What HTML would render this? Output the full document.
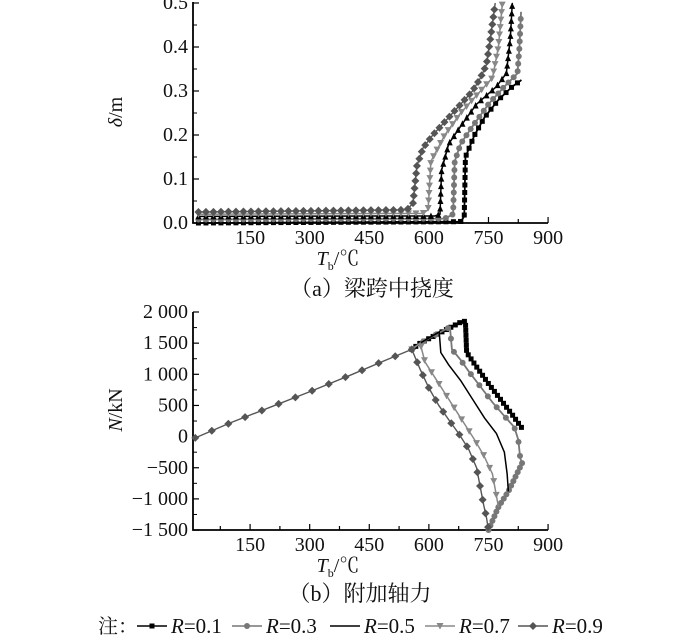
<!DOCTYPE html>
<html><head><meta charset="utf-8"><style>
body{margin:0;background:#fff}
svg text{font-family:"Liberation Serif","Noto Serif CJK SC",serif;fill:#111}
</style></head><body>
<svg id="c" width="700" height="635" viewBox="0 0 700 635" xmlns="http://www.w3.org/2000/svg"></svg>
<script>
const tempTicks=[150,300,450,600,750,900];
const deflTicks=[0.0,0.1,0.2,0.3,0.4,0.5];
const deflTickLabels=["0.0","0.1","0.2","0.3","0.4","0.5"];
const forceTicks=[2000,1500,1000,500,0,-500,-1000,-1500];
const forceTickLabels=["2 000","1 500","1 000","500","0","\u2212500","\u22121 000","\u22121 500"];
const seriesNames=["R=0.1","R=0.3","R=0.5","R=0.7","R=0.9"];
// deflection (T, δ)
const d01=[[20,0.0],[680,0.003],[689,0.015],[692,0.15],[715,0.2],[740,0.24],[775,0.28],[810,0.31],[833,0.325]];
const d03=[[20,0.008],[640,0.01],[661,0.02],[665,0.14],[680,0.18],[710,0.22],[750,0.27],[790,0.31],[823,0.34],[828,0.4],[832,0.48]];
const d05=[[20,0.015],[615,0.016],[628,0.02],[632,0.12],[650,0.18],[680,0.22],[720,0.27],[770,0.31],[795,0.34],[805,0.42],[810,0.5]];
const d07=[[20,0.02],[585,0.022],[598,0.03],[605,0.14],[640,0.2],[680,0.25],[730,0.3],[760,0.33],[775,0.4],[785,0.5]];
const d09=[[20,0.025],[545,0.03],[560,0.045],[570,0.13],[585,0.17],[610,0.2],[640,0.23],[670,0.26],[710,0.3],[730,0.33],[745,0.36],[755,0.42],[767,0.5]];
// axial force (T, N)
const rise=[[12,-20],[100,220],[200,470],[300,720],[400,980],[500,1250],[557,1400]];
const n09=[[578,1080],[600,780],[625,500],[650,270],[675,50],[700,-200],[720,-500],[738,-1100],[745,-1300],[750,-1500]];
const n07=[[578,1500],[590,1200],[615,950],[640,700],[665,450],[690,200],[715,-50],[738,-300],[760,-600],[770,-950],[775,-1130]];
const n05=[[578,1500],[626,1680],[630,1350],[650,1150],[680,900],[710,600],[740,300],[770,50],[790,-250],[797,-600],[800,-880]];
const n03=[[578,1500],[653,1760],[658,1400],[680,1230],[700,1050],[730,800],[760,550],[790,330],[815,150],[825,-50],[830,-350],[835,-420]];
const n01=[[578,1500],[684,1850],[692,1850],[695,1350],[720,1120],[750,850],[780,600],[810,350],[835,130]];
const back=[[750,-1500],[775,-1130],[800,-880],[835,-420]];

const S=document.getElementById('c');const NS="http://www.w3.org/2000/svg";
function el(t,a,p){const e=document.createElementNS(NS,t);for(const k in a)e.setAttribute(k,a[k]);(p||S).appendChild(e);return e;}
function tx(x,y,s,size,anchor,name){const e=el('text',{x:x,y:y,'font-size':size,'text-anchor':anchor||'middle'});e.textContent=s;

return e;}
const xs=t=>190.5+t*0.3973;
const ys1=v=>223-v*440;
const ys2=v=>436.6-v*0.0623;
const styles=[{c:"#000",m:"sq",w:1.8},{c:"#777",m:"ci",w:1.8},{c:"#000",m:"none",w:1.5},{c:"#888",m:"tv",w:1.5},{c:"#555",m:"di",w:1.4}];
function marker(g,x,y,m,c){
 if(m=="sq")el('rect',{x:x-2.5,y:y-2.5,width:5,height:5,fill:c},g);
 else if(m=="ci")el('circle',{cx:x,cy:y,r:3,fill:c},g);
 else if(m=="tv")el('path',{d:`M${x-3.5} ${y-3}L${x+3.5} ${y-3}L${x} ${y+3.5}Z`,fill:c},g);
 else if(m=="tu")el('path',{d:`M${x-3} ${y+3}L${x+3} ${y+3}L${x} ${y-3.5}Z`,fill:c},g);
 else if(m=="di")el('path',{d:`M${x} ${y-4}L${x+4} ${y}L${x} ${y+4}L${x-4} ${y}Z`,fill:c},g);
}
function series(pts,ys,st,name,step,mk){
 const g=el('g',{});
 
 
 const P=pts.map(p=>[xs(p[0]),ys(p[1])]);
 el('polyline',{points:P.map(p=>p.join(',')).join(' '),fill:'none',stroke:st.c,'stroke-width':st.w},g);
 const m=mk||st.m; if(m=="none")return;
 let acc=0;marker(g,P[0][0],P[0][1],m,st.c);
 for(let i=1;i<P.length;i++){const dx=P[i][0]-P[i-1][0],dy=P[i][1]-P[i-1][1],L=Math.hypot(dx,dy);let s=step-acc;
  while(s<=L){marker(g,P[i-1][0]+dx*s/L,P[i-1][1]+dy*s/L,m,st.c);s+=step;}acc=L-(s-step);}
}
function axes(top,bot,yt,yl,ys,name){
 const g=el('g',{});
 
 
 el('path',{d:`M193 ${top}L193 ${bot}L548 ${bot}`,fill:'none',stroke:'#000','stroke-width':1.8},g);
 for(let t=75;t<=900;t+=75){el('line',{x1:xs(t),x2:xs(t),y1:bot,y2:bot-(t%150?4:6),stroke:'#000','stroke-width':1.2},g);}
 tempTicks.forEach(t=>tx(xs(t),bot+21,String(t),20,'middle','x-tick-label'));
 yt.forEach((v,i)=>{el('line',{x1:193,x2:199,y1:ys(v),y2:ys(v),stroke:'#000','stroke-width':1.2},g);
  if(i<yt.length-1){const mid=(ys(v)+ys(yt[i+1]))/2;el('line',{x1:193,x2:197,y1:mid,y2:mid,stroke:'#000','stroke-width':1},g);}
  tx(188,ys(v)+6,yl[i],20,'end','y-tick-label');});
 const t=tx(338,bot+42,'',20,'middle','x-axis-title');
 t.innerHTML='<tspan font-style="italic">T</tspan><tspan font-size="12" dy="5">b</tspan><tspan dy="-5">/℃</tspan>';
}
// chart a
axes(2,223,deflTicks,deflTickLabels,ys1,'deflection-axes');
const yt1=tx(0,0,'',20,'middle','y-axis-title');yt1.setAttribute('transform','translate(122,112) rotate(-90)');
yt1.innerHTML='<tspan font-style="italic">δ</tspan>/m';
[d01,d03,d05,d07,d09].forEach((d,i)=>series(d,ys1,styles[i],'deflection-'+seriesNames[i].replace('=','-'),7.5,i==2?'tu':null));
tx(372,296,'（a）梁跨中挠度',22,'middle','caption-a');
// chart b
axes(312,530,forceTicks,forceTickLabels,ys2,'force-axes');
const yt2=tx(0,0,'',20,'middle','y-axis-title-n');yt2.setAttribute('transform','translate(122,410) rotate(-90)');
yt2.innerHTML='<tspan font-style="italic">N</tspan>/kN';
series(rise,ys2,styles[4],'force-rise',18);
series(back,ys2,styles[1],'force-return',5);
[n01,n03,n05,n07,n09].forEach((d,i)=>{const full=[[557,1400]].concat(d);series(full,ys2,styles[i],'force-'+seriesNames[i].replace('=','-'),i==0?5:14);});
tx(360,601,'（b）附加轴力',22,'middle','caption-b');
// legend
const lg=el('g',{});
tx(98,633,'注：',20,'start','legend-note');
const lx=[167,262,360,455,548];
seriesNames.forEach((n,i)=>{el('line',{x1:lx[i]-30,x2:lx[i],y1:626,y2:626,stroke:styles[i].c,'stroke-width':1.6},lg);
 if(styles[i].m!="none")marker(lg,lx[i]-15,626,styles[i].m,styles[i].c);
 const t=tx(lx[i]+4,633,'',21,'start','legend-entry');t.innerHTML='<tspan font-style="italic">R</tspan>'+n.slice(1);});
</script>
</body></html>
